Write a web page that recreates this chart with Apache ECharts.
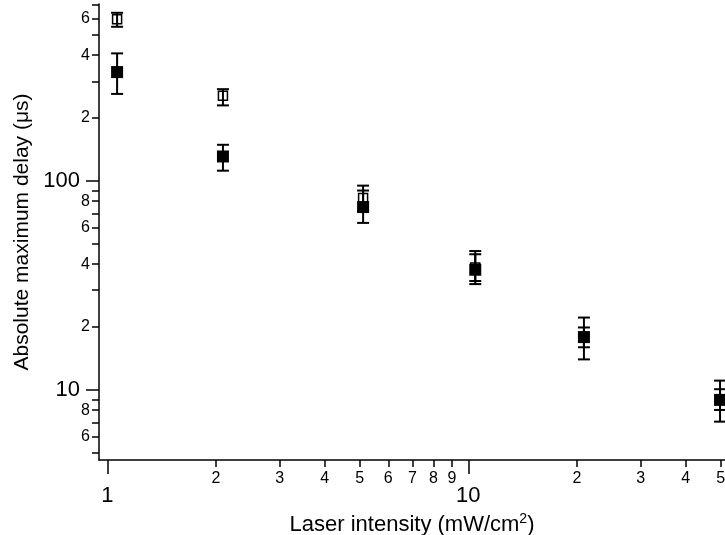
<!DOCTYPE html>
<html><head><meta charset="utf-8">
<script src="https://cdn.jsdelivr.net/npm/echarts@6/dist/echarts.min.js"></script>
<style>html,body{margin:0;padding:0;background:#fff}#c{width:725px;height:535px}</style>
</head><body><div id="c"></div>
<script>
// ---- data ----
const intensity = [1.064, 2.09, 5.11, 10.45, 20.9, 49.8];
const filledDelay = [332, 131, 75, 37.6, 17.9, 8.96];
const filledLow = [261, 112, 63, 32.1, 14.0, 7.05];
const filledHigh = [408, 149, 90, 46.2, 22.2, 11.08];
const openDelay = [594, 256, 83, 38.5, 17.9, 9.0];
const openLow = [547, 230, 72, 33.2, 16.0, 8.02];
const openHigh = [638, 275, 95, 44.6, 19.9, 10.08];
// ---- tick values ----
const xMajorTicks = [1, 10];
const xMinorTicks = [2, 3, 4, 5, 6, 7, 8, 9, 20, 30, 40, 50];
const yMajorTicks = [10, 100];
const yMinorTicks = [5, 6, 7, 8, 9, 20, 30, 40, 50, 60, 70, 80, 90, 200, 300, 400, 500, 600, 700];
const yMinorLabels = [6, 8, 20, 40, 60, 80, 200, 400, 600];

const xMin = 0.948, xMax = 51.4, yMin = 4.62, yMax = 703;
const FONT = 'Liberation Sans, Arial, sans-serif';

function mantissa(v) {
  const p = Math.pow(10, Math.floor(Math.log10(v) + 1e-9));
  return String(Math.round(v / p));
}
function errRender(params, api) {
  const x = api.value(0), lo = api.value(1), hi = api.value(2);
  const a = api.coord([x, lo]), b = api.coord([x, hi]);
  const hw = 6;
  const style = { stroke: '#000', lineWidth: 2, fill: null };
  return { type: 'group', children: [
    { type: 'line', shape: { x1: a[0], y1: a[1], x2: b[0], y2: b[1] }, style },
    { type: 'line', shape: { x1: a[0] - hw, y1: a[1], x2: a[0] + hw, y2: a[1] }, style },
    { type: 'line', shape: { x1: b[0] - hw, y1: b[1], x2: b[0] + hw, y2: b[1] }, style }
  ]};
}
const lineStyle = { color: '#000', width: 1.5 };
const gridBox = { left: 99, right: 0, top: 4, bottom: 75, containLabel: false, outerBoundsMode: 'none' };

const chart = echarts.init(document.getElementById('c'), null, { renderer: 'canvas' });
chart.setOption({
  animation: false,
  backgroundColor: '#fff',
  grid: [Object.assign({}, gridBox), Object.assign({}, gridBox)],
  xAxis: [
    { type: 'log', logBase: 10, gridIndex: 0, min: xMin, max: xMax, position: 'bottom',
      axisLine: { show: true, onZero: false, lineStyle },
      axisTick: { show: true, length: 14, customValues: xMajorTicks, lineStyle },
      axisLabel: { customValues: xMajorTicks, fontSize: 22, color: '#000', margin: 25, fontFamily: FONT },
      splitLine: { show: false },
      name: 'Laser intensity (mW/cm{sup|2})', nameLocation: 'middle', nameGap: 43,
      nameTextStyle: { fontSize: 22, color: '#000', fontFamily: FONT, lineHeight: 26,
        rich: { sup: { fontSize: 14, fontFamily: FONT, color: '#000', verticalAlign: 'top', lineHeight: 12 } } }
    },
    { type: 'log', logBase: 10, gridIndex: 1, min: xMin, max: xMax, position: 'bottom',
      axisLine: { show: false },
      axisTick: { show: true, length: 7, customValues: xMinorTicks, lineStyle },
      axisLabel: { customValues: xMinorTicks, fontSize: 16, color: '#000', margin: 11, fontFamily: FONT, formatter: mantissa },
      splitLine: { show: false }
    }
  ],
  yAxis: [
    { type: 'log', logBase: 10, gridIndex: 0, min: yMin, max: yMax, position: 'left',
      axisLine: { show: true, onZero: false, lineStyle },
      axisTick: { show: true, length: 13, customValues: yMajorTicks, lineStyle },
      axisLabel: { customValues: yMajorTicks, fontSize: 22, color: '#000', margin: 19, fontFamily: FONT },
      splitLine: { show: false },
      name: 'Absolute maximum delay (μs)', nameLocation: 'middle', nameGap: 64,
      nameTextStyle: { fontSize: 21, color: '#000', fontFamily: FONT }
    },
    { type: 'log', logBase: 10, gridIndex: 1, min: yMin, max: yMax, position: 'left',
      axisLine: { show: false },
      axisTick: { show: true, length: 7, customValues: yMinorTicks, lineStyle },
      axisLabel: { customValues: yMinorLabels, fontSize: 16, color: '#000', margin: 9, fontFamily: FONT, formatter: mantissa },
      splitLine: { show: false }
    }
  ],
  series: [
    { type: 'scatter', xAxisIndex: 0, yAxisIndex: 0, symbol: 'rect', symbolSize: 9, z: 2,
      itemStyle: { color: '#fff', borderColor: '#000', borderWidth: 1.5, opacity: 1 },
      data: intensity.map((x, i) => [x, openDelay[i]]) },
    { type: 'custom', xAxisIndex: 0, yAxisIndex: 0, renderItem: errRender, z: 3, clip: false,
      encode: { x: 0, y: [1, 2] },
      data: intensity.map((x, i) => [x, openLow[i], openHigh[i]]) },
    { type: 'custom', xAxisIndex: 0, yAxisIndex: 0, renderItem: errRender, z: 4, clip: false,
      encode: { x: 0, y: [1, 2] },
      data: intensity.map((x, i) => [x, filledLow[i], filledHigh[i]]) },
    { type: 'scatter', xAxisIndex: 0, yAxisIndex: 0, symbol: 'rect', symbolSize: 12, z: 5,
      itemStyle: { color: '#000', opacity: 1 },
      data: intensity.map((x, i) => [x, filledDelay[i]]) }
  ]
});
</script>
</body></html>
